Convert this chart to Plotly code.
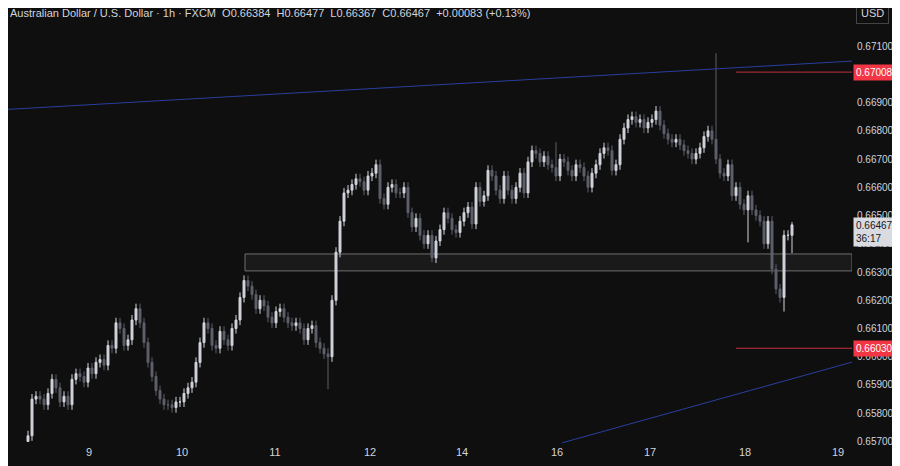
import plotly.graph_objects as go

closes = [0.6572,0.6585,0.6586,0.6585,0.6583,0.6587,0.6592,0.6589,0.6584,0.6586,0.6583,0.6592,0.6594,0.6593,0.6591,0.6596,
0.6594,0.6598,0.6599,0.6597,0.6604,0.6603,0.6612,0.6610,0.6604,0.6606,0.6613,0.6617,0.6612,0.6605,0.6598,0.6593,
0.6588,0.6585,0.6583,0.6583,0.6582,0.6584,0.6584,0.6587,0.6589,0.6591,0.6598,0.6605,0.6612,0.6610,0.6604,0.6603,
0.6609,0.6606,0.6604,0.6610,0.6613,0.6621,0.6627,0.6625,0.6622,0.6617,0.6620,0.6618,0.6614,0.6612,0.6616,0.6617,
0.6614,0.6612,0.6611,0.6612,0.6610,0.6606,0.6610,0.6611,0.6605,0.6603,0.6601,0.6600,0.6620,0.6637,0.6648,0.6658,
0.6659,0.6661,0.6663,0.6662,0.6659,0.6664,0.6665,0.6668,0.6656,0.6654,0.6660,0.6661,0.6658,0.6658,0.6660,0.6651,
0.6646,0.6649,0.6643,0.6640,0.6643,0.6635,0.6641,0.6645,0.6651,0.6649,0.6645,0.6644,0.6648,0.6651,0.6653,0.6647,
0.6660,0.6655,0.6657,0.6666,0.6664,0.6659,0.6656,0.6664,0.6659,0.6656,0.6660,0.6665,0.6658,0.6669,0.6673,0.6672,
0.6669,0.6671,0.6668,0.6667,0.6664,0.6670,0.6669,0.6666,0.6664,0.6668,0.6667,0.6664,0.6660,0.6665,0.6668,0.6672,
0.6674,0.6673,0.6666,0.6668,0.6677,0.6681,0.6684,0.6685,0.6683,0.6684,0.6681,0.6683,0.6684,0.6687,0.6682,0.6679,
0.6677,0.6676,0.6677,0.6675,0.6673,0.6672,0.6670,0.6672,0.6674,0.6678,0.6680,0.6677,0.6670,0.6665,0.6664,0.6668,
0.6657,0.6660,0.6654,0.6652,0.6657,0.6652,0.6650,0.6648,0.6640,0.6648,0.6631,0.6624,0.6621,0.6643,0.6643,0.66467]
first_open = 0.6570
wick_default = 0.00018
special_highs = {75: 0.6603, 132: 0.6676, 172: 0.67075, 191: 0.66477}
special_lows = {0: 0.65700, 75: 0.65885, 101: 0.66335, 180: 0.66405, 189: 0.66160, 191: 0.66367}

tick_pos = [15.25, 38.5, 61.75, 85.5, 108.5, 132.25, 155.5, 179.25, 202.5]
tick_txt = ["9", "10", "11", "12", "14", "16", "17", "18", "19"]
price_ticks = [0.657 + 0.001 * k for k in range(15)]

opens = [first_open] + closes[:-1]
idx = list(range(len(closes)))
highs = [special_highs.get(i, max(o, c) + wick_default) for i, (o, c) in enumerate(zip(opens, closes))]
lows = [special_lows.get(i, min(o, c) - wick_default) for i, (o, c) in enumerate(zip(opens, closes))]

BG = "#0f0f0f"
FONT = "Liberation Sans"
fig = go.Figure()
fig.add_shape(type="rect", x0=54.25, x1=206, y0=0.66304, y1=0.66364,
              fillcolor="#1a1a1a", line=dict(color="#6f6f6f", width=1), layer="below")
fig.add_trace(go.Candlestick(x=idx, open=opens, high=highs, low=lows, close=closes,
    increasing=dict(fillcolor="#d1d4dc", line=dict(color="#d1d4dc", width=1)),
    decreasing=dict(fillcolor="#5d606b", line=dict(color="#5d606b", width=1)),
    whiskerwidth=0, showlegend=False, hoverinfo="skip"))
fig.add_shape(type="line", x0=-5, x1=206, y0=0.66876, y1=0.67047, line=dict(color="#2a3f9e", width=1))
fig.add_shape(type="line", x0=133.5, x1=206, y0=0.65695, y1=0.65981, line=dict(color="#2a3f9e", width=1))
fig.add_shape(type="line", x0=177, x1=206, y0=0.67008, y1=0.67008, line=dict(color="#c2303d", width=1))
fig.add_shape(type="line", x0=177, x1=206, y0=0.66030, y1=0.66030, line=dict(color="#c2303d", width=1))

for val, txt in [(0.67008, "0.67008"), (0.66030, "0.66030")]:
    fig.add_annotation(x=1.0, xref="paper", y=val, text=txt, showarrow=False, xanchor="left",
                       xshift=1, bgcolor="#f23645", font=dict(color="white", size=10, family=FONT),
                       borderpad=2)
fig.add_annotation(x=1.0, xref="paper", y=0.66467, text="0.66467<br>36:17", showarrow=False,
                   xanchor="left", yanchor="top", yshift=8, xshift=1, bgcolor="#d9dbe0", align="left",
                   font=dict(color="#131722", size=10, family=FONT), borderpad=2)
fig.add_annotation(x=0.0, xref="paper", y=1.0, yref="paper", yanchor="top", xanchor="left", showarrow=False,
    text="Australian Dollar / U.S. Dollar · 1h · FXCM  O0.66384  H0.66477  L0.66367  C0.66467  +0.00083 (+0.13%)",
    font=dict(color="#d1d4dc", size=11, family=FONT), yshift=3)
fig.add_annotation(x=1.0, xref="paper", y=1.0, yref="paper", yanchor="top", xanchor="left", xshift=4, yshift=6,
    showarrow=False, text="USD", font=dict(color="#d1d4dc", size=11, family=FONT),
    bordercolor="#444", borderwidth=1, borderpad=4)

fig.update_layout(width=892, height=458, paper_bgcolor=BG, plot_bgcolor=BG,
    margin=dict(l=0, r=48, t=0, b=22),
    xaxis=dict(range=[-5, 206], tickvals=tick_pos, ticktext=tick_txt, showgrid=False, zeroline=False,
               rangeslider=dict(visible=False), tickfont=dict(color="#d1d4dc", size=11, family=FONT),
               showline=False, ticks=""),
    yaxis=dict(range=[0.65691, 0.67235], side="right", tickvals=price_ticks, tickformat=".5f",
               showgrid=False, zeroline=False, tickfont=dict(color="#d1d4dc", size=10, family=FONT),
               ticks="", ticklabelstandoff=4))
fig.write_html("out.html")
